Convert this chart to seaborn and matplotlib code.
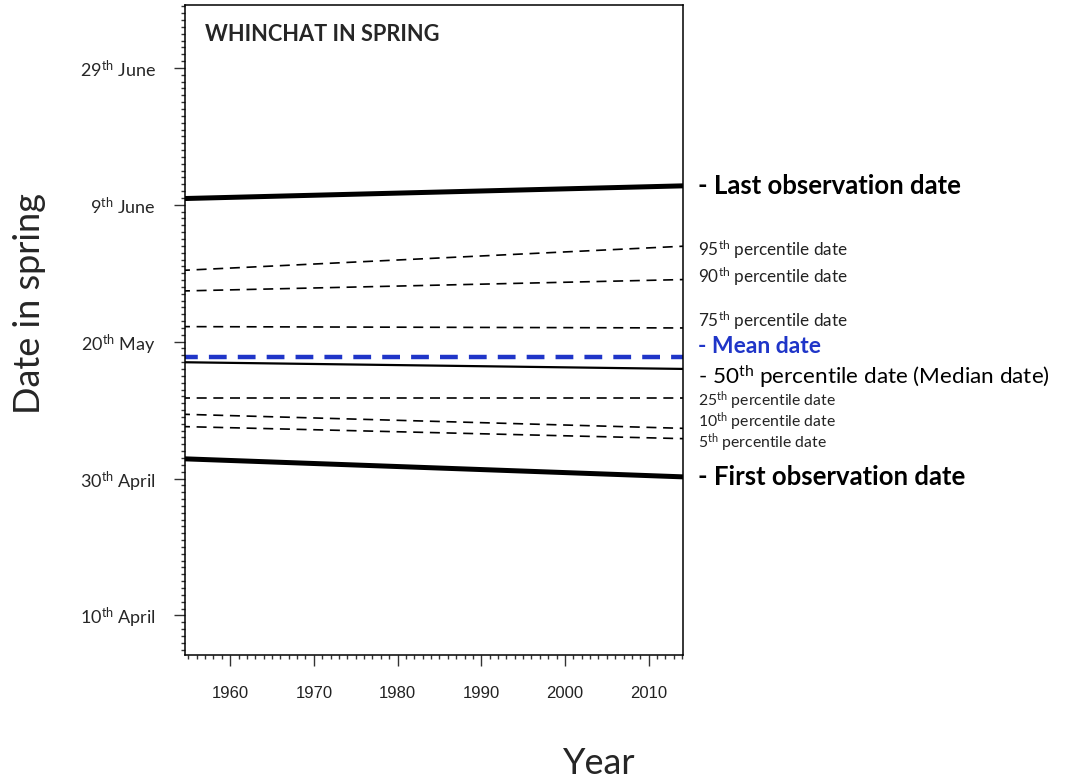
import matplotlib
matplotlib.use("Agg")
import matplotlib.pyplot as plt
import seaborn as sns
import pandas as pd
from matplotlib.ticker import MultipleLocator

# trend lines: value (day of year) at start / end year
years = [1954, 2015]
last_obs = [160.9, 162.8]
p95 = [150.4, 154.0]
p90 = [147.4, 149.1]
p75 = [142.2, 142.0]
mean_date = [137.7, 137.7]
p50 = [137.0, 136.0]
p25 = [131.7, 131.7]
p10 = [129.4, 127.3]
p5 = [127.6, 125.8]
first_obs = [122.9, 120.2]

day_ticks = [100, 120, 140, 160, 180]
day_labels = [r"10$^{\mathrm{th}}$ April", r"30$^{\mathrm{th}}$ April",
              r"20$^{\mathrm{th}}$ May", r"9$^{\mathrm{th}}$ June",
              r"29$^{\mathrm{th}}$ June"]
year_ticks = [1960, 1970, 1980, 1990, 2000, 2010]

sns.set_theme(style="ticks")
plt.rcParams['font.family'] = ['Lato', 'DejaVu Sans']
plt.rcParams['mathtext.fontset'] = 'custom'
plt.rcParams['mathtext.rm'] = 'Lato'
plt.rcParams['mathtext.it'] = 'Lato'

fig = plt.figure(figsize=(10.71, 7.84), dpi=100)
ax = fig.add_axes([0.1727, 0.1645, 0.465, 0.8291])

blue = "#1f35c8"
series = [
    (last_obs, dict(color="black", lw=3.6)),
    (p95, dict(color="black", lw=1.2, dashes=(6, 4))),
    (p90, dict(color="black", lw=1.2, dashes=(6, 4))),
    (p75, dict(color="black", lw=1.2, dashes=(6, 4))),
    (mean_date, dict(color=blue, lw=3.2, dashes=(4, 2.5))),
    (p50, dict(color="black", lw=1.6)),
    (p25, dict(color="black", lw=1.2, dashes=(6, 4))),
    (p10, dict(color="black", lw=1.2, dashes=(6, 4))),
    (p5, dict(color="black", lw=1.2, dashes=(6, 4))),
    (first_obs, dict(color="black", lw=3.6)),
]
for vals, kw in series:
    df = pd.DataFrame({"year": years, "day": vals})
    dashes = kw.pop("dashes", None)
    sns.lineplot(data=df, x="year", y="day", ax=ax, **kw)
    if dashes is not None:
        ax.lines[-1].set_dashes(dashes)

ax.set_xlim(1954.6, 2014.1)
ax.set_ylim(94.2, 189.2)
ax.set_xlabel("")
ax.set_ylabel("")
ax.set_xticks(year_ticks)
ax.set_xticklabels([str(y) for y in year_ticks])
for t in ax.get_xticklabels():
    t.set_fontfamily("Liberation Sans")
    t.set_fontsize(12)
    t.set_color("#222222")
ax.set_yticks(day_ticks)
ax.set_yticklabels(day_labels, fontsize=13)
ax.xaxis.set_minor_locator(MultipleLocator(1))
ax.yaxis.set_minor_locator(MultipleLocator(1))
ax.tick_params(axis="both", which="major", direction="out", length=8, width=1, color="#333333")
ax.tick_params(axis="x", which="major", pad=14)
ax.tick_params(axis="y", which="major", pad=13)
ax.tick_params(axis="both", which="minor", direction="out", length=3, width=1, color="#333333")
for s in ax.spines.values():
    s.set_linewidth(1.1)
    s.set_color("black")

ax.text(0.04, 0.955, "WHINCHAT IN SPRING", transform=ax.transAxes,
        fontsize=15.7, fontweight="bold", va="center", ha="left")

# right-hand labels
lab_x = 698 / 1071
labels = [
    (186, "- Last observation date", 18.5, "bold", "black"),
    (250, r"95$^{\mathrm{th}}$ percentile date", 12.3, "normal", "#222222"),
    (277, r"90$^{\mathrm{th}}$ percentile date", 12.3, "normal", "#222222"),
    (321, r"75$^{\mathrm{th}}$ percentile date", 12.3, "normal", "#222222"),
    (347, "- Mean date", 16.5, "bold", blue),
    (377, r"- 50$^{\mathrm{th}}$ percentile date (Median date)", 16.2, "normal", "black"),
    (401, r"25$^{\mathrm{th}}$ percentile date", 11.3, "normal", "#222222"),
    (422, r"10$^{\mathrm{th}}$ percentile date", 11.3, "normal", "#222222"),
    (443, r"5$^{\mathrm{th}}$ percentile date", 11.3, "normal", "#222222"),
    (477, "- First observation date", 18.5, "bold", "black"),
]
for ypx, txt, fs, fw, col in labels:
    fig.text(lab_x, 1 - ypx / 784, txt, fontsize=fs, fontweight=fw, color=col,
             ha="left", va="center")

fig.text(30 / 1071, 1 - 304 / 784, "Date in spring", rotation=90, fontsize=26,
         ha="center", va="center")
fig.text(599 / 1071, 1 - 764 / 784, "Year", fontsize=26, ha="center", va="center")

fig.savefig("out.png", dpi=100)
